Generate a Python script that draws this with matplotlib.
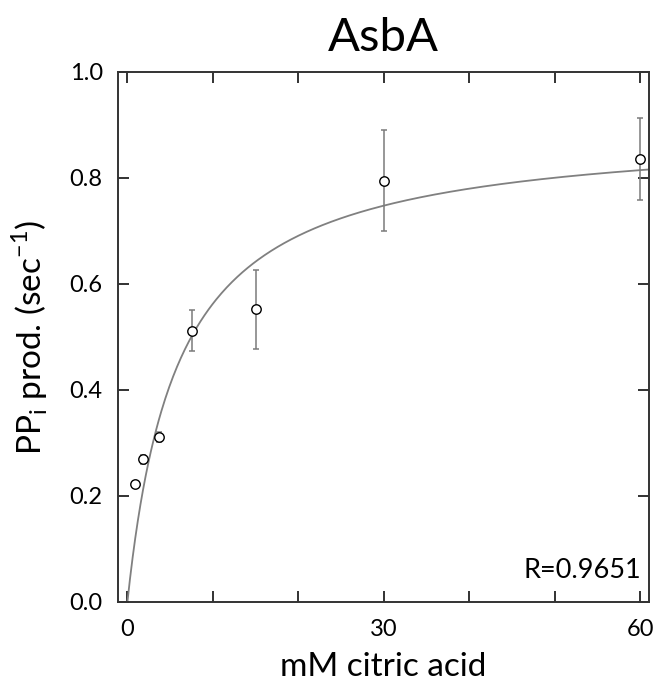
import matplotlib
matplotlib.use("Agg")
import matplotlib.pyplot as plt
import numpy as np

# measured points (mM citric acid vs PPi production, sec^-1)
conc = [0.9375, 1.875, 3.75, 7.5, 15, 30, 60]
rate = [0.223, 0.269, 0.311, 0.512, 0.552, 0.795, 0.836]
rate_err = [0.006, 0.009, 0.010, 0.039, 0.075, 0.095, 0.077]

# Michaelis-Menten fit parameters
VMAX = 0.895
KM = 5.9
R_TEXT = "R=0.9651"

x_ticks = [0, 10, 20, 30, 40, 50, 60]
x_labels = ["0", "", "", "30", "", "", "60"]
y_ticks = [0.0, 0.2, 0.4, 0.6, 0.8, 1.0]

plt.rcParams['font.family'] = ['Lato', 'DejaVu Sans']
plt.rcParams['mathtext.fontset'] = 'custom'
plt.rcParams['mathtext.rm'] = 'Lato'

fig = plt.figure(figsize=(6.56, 6.84), dpi=100)
ax = fig.add_axes([118 / 656, 82 / 684, 531 / 656, 530 / 684])

xs = np.linspace(0, 61, 400)
ax.plot(xs, VMAX * xs / (KM + xs), color='#808080', lw=1.3, zorder=2)

ax.errorbar(conc, rate, yerr=rate_err, fmt='none', ecolor='#7a7a7a',
            elinewidth=1.1, capsize=2.5, capthick=1.1, zorder=3)
ax.plot(conc, rate, 'o', mfc='white', mec='black', mew=1.0, ms=6.8, zorder=4)

ax.set_xlim(-1.1, 61)
ax.set_ylim(0, 1.0)
ax.set_xticks(x_ticks)
ax.set_xticklabels(x_labels)
ax.set_yticks(y_ticks)
ax.set_yticklabels(["%.1f" % v for v in y_ticks])
ax.tick_params(direction='in', length=8, width=1.3, labelsize=17, color='#222222',
               top=True, right=True)
ax.tick_params(axis='y', pad=11)
ax.tick_params(axis='x', pad=12)

for s in ax.spines.values():
    s.set_linewidth(1.4)
    s.set_color('#333333')

ax.set_title("AsbA", fontsize=34, pad=15)
ax.set_xlabel("mM citric acid", fontsize=24, labelpad=9)
ax.set_ylabel(r"PP$_\mathregular{i}$ prod. (sec$^\mathregular{-1}$)", fontsize=24, labelpad=14)

ax.text(0.985, 0.035, R_TEXT, transform=ax.transAxes, ha='right', va='bottom', fontsize=19.5)

fig.savefig("out.png", dpi=100)
